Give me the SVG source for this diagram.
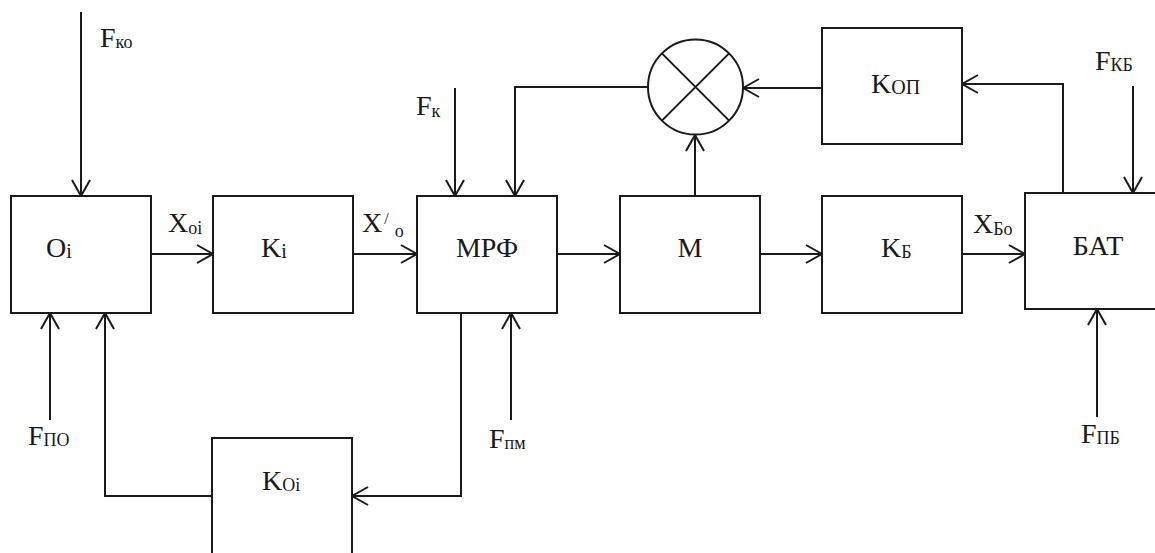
<svg xmlns="http://www.w3.org/2000/svg" width="1155" height="553" viewBox="0 0 1155 553" font-family="Liberation Serif, serif">
<defs>
<marker id="ah" markerUnits="userSpaceOnUse" markerWidth="20" markerHeight="20" viewBox="-18 -10 20 20" refX="0" refY="0" orient="auto">
<path d="M-16,-9 L0,0 L-16,9" fill="none" stroke="#1a1a1a" stroke-width="2"/>
</marker>
</defs>
<style>
.b{fill:#fff;stroke:#1a1a1a;stroke-width:2}
.c{fill:none;stroke:#1a1a1a;stroke-width:2}
.a{fill:none;stroke:#1a1a1a;stroke-width:2;marker-end:url(#ah)}
text{fill:#1a1a1a;font-size:28px}
.m{text-anchor:middle}
.s{font-size:18px}
.si{font-size:20px}
</style>
<rect width="1155" height="553" fill="#fff"/>
<g id="connectors">
<path class="a" d="M81,12 V196"/>
<path class="a" d="M151,254 H213"/>
<path class="a" d="M353,254 H417"/>
<path class="a" d="M557,254 H620"/>
<path class="a" d="M760,254 H822"/>
<path class="a" d="M962,254 H1025"/>
<path class="a" d="M455,88 V196"/>
<path class="a" d="M648,87 H515 V196"/>
<path class="a" d="M695,196 V135"/>
<path class="a" d="M822,88 H743"/>
<path class="a" d="M1063,193 V84 H962"/>
<path class="a" d="M1133,86 V193"/>
<path class="a" d="M1097,417 V309"/>
<path class="a" d="M50,420 V313"/>
<path class="a" d="M212,496 H105 V313"/>
<path class="a" d="M461,313 V496 H352"/>
<path class="a" d="M511,420 V313"/>
</g>
<g id="node-Oi"><rect class="b" x="11" y="196" width="140" height="117"/><text x="46" y="257">O<tspan class="si" dy="1">i</tspan></text></g>
<g id="node-Ki"><rect class="b" x="213" y="196" width="140" height="117"/><text x="261" y="257">K<tspan class="si" dy="1">i</tspan></text></g>
<g id="node-MRF"><rect class="b" x="417" y="196" width="140" height="117"/><text class="m" x="487" y="257">МРФ</text></g>
<g id="node-M"><rect class="b" x="620" y="196" width="140" height="117"/><text class="m" x="690" y="257">М</text></g>
<g id="node-KB"><rect class="b" x="822" y="196" width="140" height="117"/><text x="881" y="257">K<tspan class="s" dy="1">Б</tspan></text></g>
<g id="node-BAT"><rect class="b" x="1025" y="193" width="140" height="116"/><text class="m" x="1098" y="255">БАТ</text></g>
<g id="node-KOP"><rect class="b" x="822" y="28" width="140" height="116"/><text x="871" y="93">K<tspan class="si" dy="1">ОП</tspan></text></g>
<g id="node-KOi"><path class="b" d="M212,560 V438 H352 V560"/><text x="262" y="490">K<tspan class="s" dy="1">Oi</tspan></text></g>
<g id="node-sum"><circle class="b" cx="695.5" cy="87" r="47.5"/><path class="c" d="M661.9,53.4 L729.1,120.6 M729.1,53.4 L661.9,120.6"/></g>
<g id="labels">
<text x="100" y="47">F<tspan class="s" dy="1">ко</tspan></text>
<text x="168" y="232">X<tspan class="s" dy="2">oi</tspan></text>
<text x="362" y="232">X<tspan font-size="16" dx="2" dy="-8">/</tspan><tspan class="s" dx="6" dy="13">o</tspan></text>
<text x="416" y="115">F<tspan class="s" dy="2">к</tspan></text>
<text x="1095" y="70">F<tspan class="s" dy="1">КБ</tspan></text>
<text x="973" y="233">X<tspan class="s" dy="2">Бо</tspan></text>
<text x="28" y="445">F<tspan class="s" dy="1">ПО</tspan></text>
<text x="489" y="448">F<tspan class="s" dy="1">пм</tspan></text>
<text x="1081" y="443">F<tspan class="s" dy="1">ПБ</tspan></text>
</g>
</svg>
